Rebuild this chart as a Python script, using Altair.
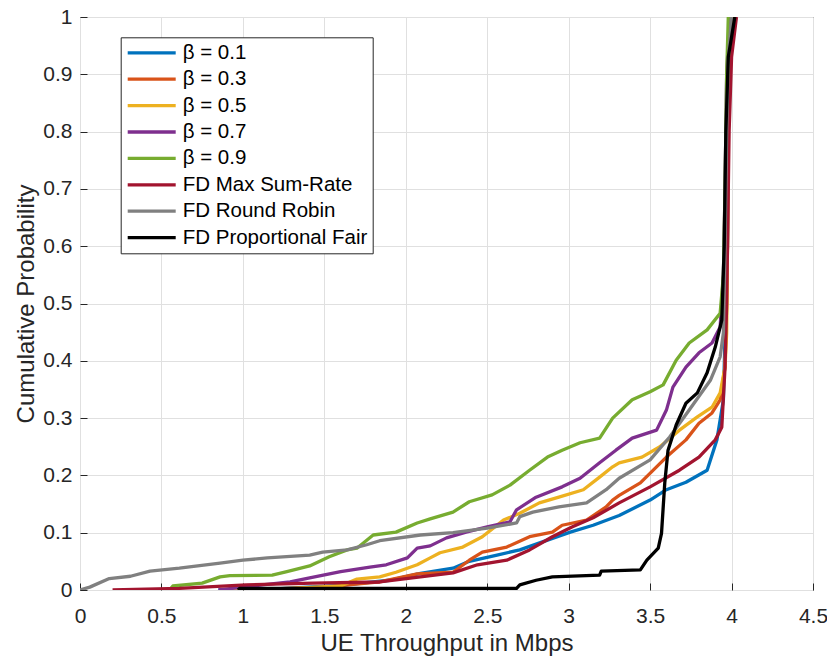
import altair as alt
import pandas as pd

FONT = "Liberation Sans"

series_names = ["β = 0.1", "β = 0.3", "β = 0.5", "β = 0.7", "β = 0.9",
                "FD Max Sum-Rate", "FD Round Robin", "FD Proportional Fair"]
series_colors = ["#0072BD", "#D95319", "#EDB120", "#7E2F8E", "#77AC30",
                 "#A2142F", "#808080", "#000000"]

# beta = 0.1
b01_x = [0.85, 1.2, 1.6, 1.9, 2.09, 2.29, 2.39, 2.56, 2.70, 2.87, 3.01, 3.15, 3.31, 3.50, 3.60, 3.72, 3.85, 3.91, 3.95, 3.965, 3.975, 3.98, 3.99, 4.01]
b01_y = [0.0, 0.002, 0.008, 0.017, 0.029, 0.038, 0.050, 0.061, 0.070, 0.087, 0.101, 0.113, 0.130, 0.157, 0.175, 0.188, 0.209, 0.262, 0.332, 0.5, 0.6, 0.8, 0.93, 1.0]
# beta = 0.3
b03_x = [1.0, 1.5, 1.84, 2.07, 2.29, 2.39, 2.47, 2.62, 2.76, 2.90, 2.96, 3.11, 3.23, 3.27, 3.31, 3.44, 3.60, 3.72, 3.80, 3.88, 3.93, 3.96, 3.97, 3.975, 3.98, 3.99, 4.01]
b03_y = [0.0, 0.005, 0.014, 0.028, 0.031, 0.052, 0.066, 0.075, 0.093, 0.101, 0.113, 0.122, 0.145, 0.157, 0.165, 0.187, 0.232, 0.262, 0.291, 0.309, 0.332, 0.389, 0.5, 0.6, 0.8, 0.93, 1.0]
# beta = 0.5
b05_x = [0.9, 1.3, 1.60, 1.70, 1.84, 1.94, 2.07, 2.15, 2.21, 2.35, 2.47, 2.60, 2.70, 2.82, 2.94, 3.09, 3.19, 3.27, 3.31, 3.45, 3.56, 3.68, 3.79, 3.88, 3.93, 3.96, 3.97, 3.975, 3.98, 3.99, 4.01]
b05_y = [0.0, 0.003, 0.007, 0.019, 0.023, 0.031, 0.044, 0.056, 0.065, 0.075, 0.093, 0.122, 0.134, 0.152, 0.162, 0.175, 0.197, 0.215, 0.222, 0.232, 0.250, 0.279, 0.302, 0.319, 0.344, 0.389, 0.449, 0.6, 0.8, 0.93, 1.0]
# beta = 0.7
b07_x = [0.85, 1.12, 1.29, 1.41, 1.60, 1.78, 1.88, 2.01, 2.07, 2.15, 2.25, 2.37, 2.50, 2.64, 2.68, 2.80, 2.96, 3.07, 3.19, 3.29, 3.39, 3.54, 3.60, 3.64, 3.72, 3.80, 3.88, 3.93, 3.95, 3.96, 3.97, 3.99]
b07_y = [0.0, 0.009, 0.014, 0.021, 0.032, 0.040, 0.044, 0.056, 0.073, 0.077, 0.091, 0.101, 0.110, 0.119, 0.140, 0.162, 0.180, 0.195, 0.222, 0.244, 0.265, 0.279, 0.314, 0.354, 0.389, 0.414, 0.431, 0.459, 0.55, 0.7, 0.9, 1.0]
# beta = 0.9
b09_x = [0.55, 0.57, 0.75, 0.86, 0.92, 1.18, 1.27, 1.41, 1.53, 1.64, 1.70, 1.80, 1.94, 2.07, 2.15, 2.29, 2.39, 2.53, 2.64, 2.76, 2.87, 2.96, 3.07, 3.19, 3.27, 3.39, 3.50, 3.58, 3.66, 3.74, 3.85, 3.93, 3.95, 3.96, 3.97, 3.98]
b09_y = [0.0, 0.007, 0.012, 0.023, 0.025, 0.026, 0.032, 0.042, 0.058, 0.070, 0.073, 0.096, 0.101, 0.117, 0.124, 0.136, 0.154, 0.166, 0.183, 0.209, 0.232, 0.244, 0.257, 0.265, 0.300, 0.332, 0.346, 0.358, 0.401, 0.431, 0.454, 0.483, 0.55, 0.7, 0.9, 1.0]
# FD Max Sum-Rate
msr_x = [0.2, 0.61, 1.02, 1.43, 1.84, 2.09, 2.29, 2.44, 2.62, 2.76, 2.90, 3.02, 3.15, 3.31, 3.50, 3.68, 3.80, 3.90, 3.94, 3.96, 3.97, 3.975, 3.985, 4.0, 4.03]
msr_y = [0.0, 0.003, 0.009, 0.012, 0.014, 0.023, 0.030, 0.044, 0.052, 0.070, 0.093, 0.110, 0.126, 0.152, 0.180, 0.209, 0.232, 0.262, 0.284, 0.389, 0.5, 0.6, 0.8, 0.93, 1.0]
# FD Round Robin
rr_x = [0.0, 0.06, 0.18, 0.31, 0.43, 0.61, 0.86, 1.0, 1.15, 1.41, 1.49, 1.64, 1.76, 1.84, 2.09, 2.29, 2.50, 2.68, 2.70, 2.78, 2.94, 3.11, 3.23, 3.31, 3.50, 3.62, 3.74, 3.87, 3.93, 3.95, 3.96, 3.97, 3.98, 4.0]
rr_y = [0.0, 0.005, 0.020, 0.024, 0.033, 0.038, 0.047, 0.052, 0.056, 0.061, 0.066, 0.070, 0.079, 0.086, 0.096, 0.100, 0.108, 0.117, 0.128, 0.136, 0.145, 0.152, 0.175, 0.195, 0.227, 0.267, 0.314, 0.366, 0.407, 0.449, 0.6, 0.8, 0.93, 1.0]
# FD Proportional Fair
pf_x = [0.97, 0.98, 2.68, 2.70, 2.80, 2.90, 3.19, 3.20, 3.44, 3.48, 3.55, 3.57, 3.59, 3.61, 3.66, 3.72, 3.79, 3.85, 3.90, 3.94, 3.955, 3.965, 3.98, 4.02]
pf_y = [0.0, 0.003, 0.003, 0.009, 0.017, 0.023, 0.026, 0.033, 0.035, 0.052, 0.073, 0.099, 0.187, 0.244, 0.288, 0.326, 0.344, 0.379, 0.424, 0.471, 0.6, 0.8, 0.93, 1.0]

series_x = [b01_x, b03_x, b05_x, b07_x, b09_x, msr_x, rr_x, pf_x]
series_y = [b01_y, b03_y, b05_y, b07_y, b09_y, msr_y, rr_y, pf_y]

x_ticks = [0, 0.5, 1, 1.5, 2, 2.5, 3, 3.5, 4, 4.5]
y_ticks = [0, 0.1, 0.2, 0.3, 0.4, 0.5, 0.6, 0.7, 0.8, 0.9, 1]

rows = []
for name, xs, ys in zip(series_names, series_x, series_y):
    for i, (xv, yv) in enumerate(zip(xs, ys)):
        rows.append({"series": name, "x": xv, "y": yv, "idx": i})
df = pd.DataFrame(rows)

chart = alt.Chart(df).mark_line(strokeWidth=3.3, clip=True, strokeJoin="round").encode(
    x=alt.X("x:Q",
            scale=alt.Scale(domain=[0, 4.5], nice=False, zero=False),
            axis=alt.Axis(values=x_ticks, format="~g", title="UE Throughput in Mbps",
                          offset=-7, tickSize=7, tickColor="#262626", domain=False,
                          labelPadding=15, labelFlush=False, labelOverlap=False,
                          labelFontSize=21, labelColor="#262626", labelFont=FONT,
                          grid=True, gridColor="#e0e0e0",
                          titleFont=FONT, titleFontSize=24, titleFontWeight="normal",
                          titleColor="#262626", titleBaseline="alphabetic", titleY=67)),
    y=alt.Y("y:Q",
            scale=alt.Scale(domain=[0, 1], nice=False, zero=False),
            axis=alt.Axis(values=y_ticks, format="~g", title="Cumulative Probability",
                          offset=-7, tickSize=7, tickColor="#262626", domain=False,
                          labelPadding=8, labelFlush=False, labelOverlap=False,
                          labelFontSize=21, labelColor="#262626", labelFont=FONT,
                          grid=True, gridColor="#e0e0e0",
                          titleFont=FONT, titleFontSize=24, titleFontWeight="normal",
                          titleColor="#262626", titleBaseline="alphabetic", titleX=-54)),
    color=alt.Color("series:N",
                    scale=alt.Scale(domain=series_names, range=series_colors),
                    legend=alt.Legend(title=None, orient="none", legendX=40.7, legendY=20.3,
                                      symbolType="stroke", symbolSize=2304, symbolStrokeWidth=3.3,
                                      labelFont=FONT, labelFontSize=20.5, labelColor="#000000",
                                      labelOffset=5, labelLimit=400, padding=5,
                                      rowPadding=5.4, clipHeight=21,
                                      strokeColor="#262626", fillColor="#ffffff")),
    order=alt.Order("idx:Q"),
).properties(
    width=733, height=573,
    autosize=alt.AutoSizeParams(type="none"),
    padding={"left": 80, "top": 17, "right": 14, "bottom": 71},
    background="#ffffff",
).configure_view(stroke="#262626", strokeWidth=1)

chart.save("out.html", embed_options={"renderer": "svg", "actions": False})
